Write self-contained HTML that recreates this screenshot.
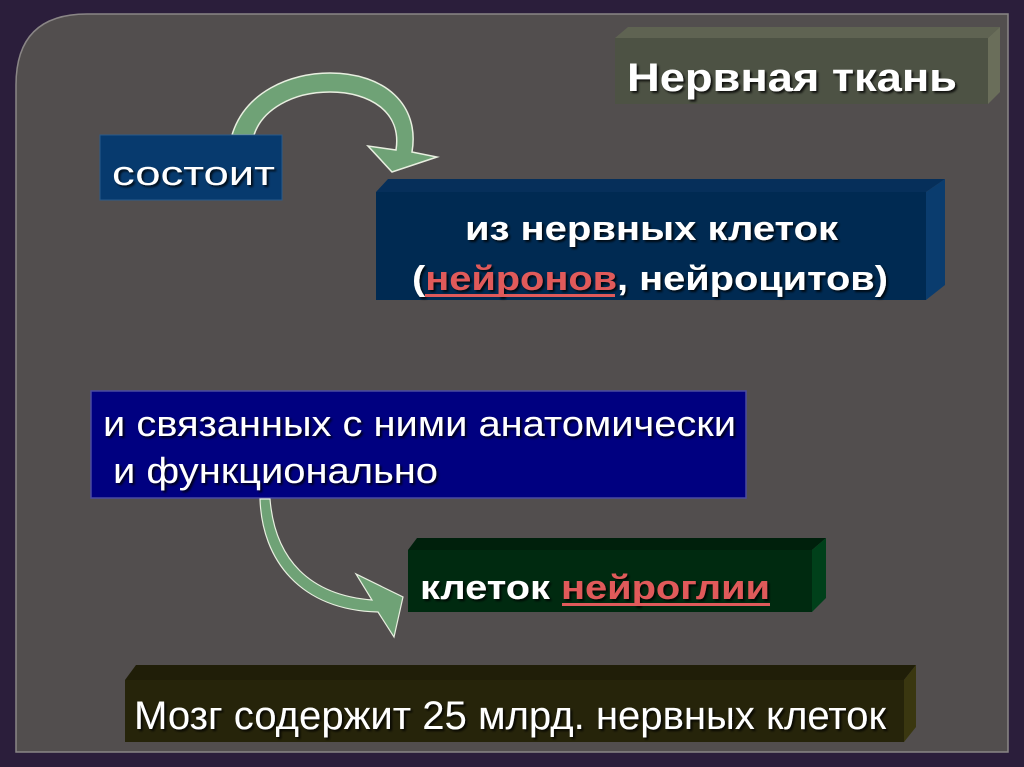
<!DOCTYPE html>
<html><head><meta charset="utf-8"><style>
html,body{margin:0;padding:0;background:#2b1e3b;}
svg{display:block;}
text{font-family:"Liberation Sans",Arial,sans-serif;fill:#fff;}
</style></head><body>
<svg width="1024" height="767" viewBox="0 0 1024 767" xmlns="http://www.w3.org/2000/svg">
<defs>
<filter id="sh" x="-5%" y="-20%" width="110%" height="140%"><feDropShadow dx="2" dy="2" stdDeviation="1" flood-color="#000" flood-opacity="0.8"/></filter>
</defs>
<rect width="1024" height="767" fill="#2b1e3b"/>
<path d="M16,752 L16,85 Q16,14 87,14 L1008,14 L1008,752 Z" fill="#524e4e" stroke="#8a8686" stroke-width="1.5"/>

<!-- Нервная ткань -->
<polygon points="615,38 628,27 1000,27 988,38" fill="#5f6352"/>
<polygon points="988,38 1000,27 1000,92 988,104" fill="#6a6e5a"/>
<rect x="615" y="38" width="373" height="66" fill="#4d5244"/>
<text x="627" y="91" font-size="40" font-weight="bold" filter="url(#sh)" textLength="330" lengthAdjust="spacingAndGlyphs">Нервная ткань</text>

<!-- arrow 1 -->
<path d="M232,135 C245,92 290,73 330,73 C385,73 420,105 412,152 L437,157 L392,172 L368,146 L396,150 C402,112 370,92 330,92 C292,92 262,110 254,135 Z" fill="#6fa276" stroke="#e8efe0" stroke-width="1.5"/>

<!-- состоит -->
<rect x="100" y="135" width="182" height="65" fill="#073a6e" stroke="#2a5a8a" stroke-width="1"/>
<text x="112" y="185" font-size="34" filter="url(#sh)" textLength="163" lengthAdjust="spacingAndGlyphs">состоит</text>

<!-- из нервных клеток -->
<polygon points="376,192 388,179 945,179 926,192" fill="#062f5a"/>
<polygon points="926,192 945,179 945,285 926,300" fill="#0a3c6e"/>
<rect x="376" y="192" width="550" height="108" fill="#002a52"/>
<text x="465" y="240" font-size="34" font-weight="bold" filter="url(#sh)" textLength="373" lengthAdjust="spacingAndGlyphs">из нервных клеток</text>
<text x="412" y="290" font-size="34" font-weight="bold" filter="url(#sh)" textLength="476" lengthAdjust="spacingAndGlyphs"><tspan>(</tspan><tspan style="fill:#e05a5a">нейронов</tspan><tspan>, нейроцитов)</tspan></text>
<rect x="425" y="294" width="190" height="3" fill="#e05a5a"/>

<!-- blue box -->
<rect x="91" y="391" width="655" height="107" fill="#000080" stroke="#4a4aa0" stroke-width="1.5"/>
<text x="103" y="436" font-size="36" filter="url(#sh)" textLength="633" lengthAdjust="spacingAndGlyphs">и связанных с ними анатомически</text>
<text x="113" y="483" font-size="36" filter="url(#sh)" textLength="325" lengthAdjust="spacingAndGlyphs">и функционально</text>

<!-- arrow 2 -->
<path d="M260,499 C262,560 300,610 378,612 L394,637 L403,597 L356,574 L372,600 C310,595 275,560 270,499 Z" fill="#6fa276" stroke="#e8efe0" stroke-width="1.2"/>

<!-- клеток нейроглии -->
<polygon points="408,550 417,538 826,538 812,550" fill="#00200c"/>
<polygon points="812,550 826,538 826,598 812,612" fill="#00401a"/>
<rect x="408" y="550" width="404" height="62" fill="#002a10"/>
<text x="420" y="599" font-size="34" font-weight="bold" filter="url(#sh)" textLength="350" lengthAdjust="spacingAndGlyphs"><tspan>клеток </tspan><tspan style="fill:#e05a5a">нейроглии</tspan></text>
<rect x="562" y="603" width="208" height="3" fill="#e05a5a"/>

<!-- Мозг -->
<polygon points="125,680 136,665 916,665 904,680" fill="#201e08"/>
<polygon points="904,680 916,665 916,727 904,742" fill="#3a3710"/>
<rect x="125" y="680" width="779" height="62" fill="#26240a"/>
<text x="134" y="729" font-size="40" filter="url(#sh)" textLength="752" lengthAdjust="spacingAndGlyphs">Мозг содержит 25 млрд. нервных клеток</text>
</svg>
</body></html>
